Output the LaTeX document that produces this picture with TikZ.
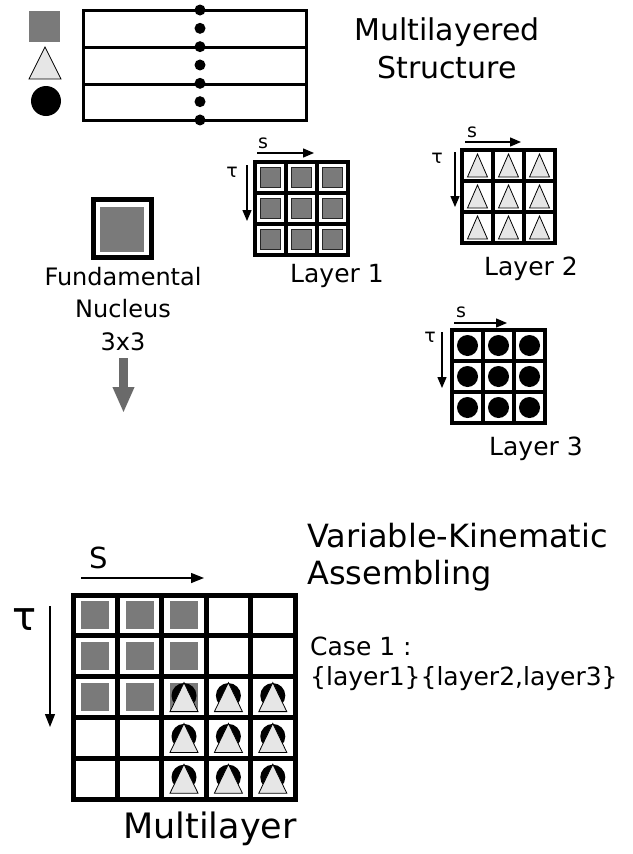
\documentclass[tikz,border=0pt]{standalone}
\usepackage{fontspec}
\setmainfont{DejaVu Sans}
\usetikzlibrary{arrows.meta}
\definecolor{nucleusgrey}{HTML}{7A7A7A}
\definecolor{trianglegrey}{HTML}{E6E6E6}
\definecolor{arrowgrey}{HTML}{6A6A6A}

\begin{document}
\begin{tikzpicture}[x=1pt,y=-1pt]
		\tikzset{gridline/.style={line width=4.5pt},
			axisarrow/.style={line width=1.4pt,-{Triangle[length=11pt,width=9pt]}},
			txt/.style={inner sep=0pt,anchor=base,align=center},
			squarecell/.style={fill=nucleusgrey},
			trianglecell/.style={fill=trianglegrey,draw=black,line width=0.8pt},
			dotcell/.style={fill=black}}
		\useasboundingbox (0,0) rectangle (632,854);
		% legend and structure
		\fill[squarecell] (29,11) rectangle (60,42);
		\draw[trianglecell] (29,79) -- (61,79) -- (45,47) -- cycle;
		\fill[dotcell] (46,101) circle (15);
		\draw[line width=3pt] (83,10) rectangle (306,120);
		\draw[line width=3pt] (83,47) -- (306,47) (83,84) -- (306,84);
		\foreach \k in {0,...,6}
			\fill[dotcell] (200,10+18.33*\k) circle (5.5);
		\node[txt,font={\fontsize{30}{38}\selectfont}] (title) at (447,78) {Multilayered\\Structure};
		% layer 1
		\begin{scope}[shift={(255,162)}]
			\foreach \i in {0,1,2} \foreach \j in {0,1,2}
				\filldraw[squarecell,draw=black!85,line width=1pt] (31*\i+5.5,31*\j+5.5) rectangle ++(20,20);
			\draw[gridline] (0,0) rectangle (93,93);
			\foreach \k in {31,62} {
				\draw[gridline] (\k,0) -- (\k,93);
				\draw[gridline] (0,\k) -- (93,\k);
			}
		\end{scope}
		\coordinate (s1a) at (257,153); \coordinate (s1b) at (314,153);
		\coordinate (t1a) at (247,165); \coordinate (t1b) at (247,221);
		\draw[axisarrow] (s1a) -- (s1b);
		\draw[axisarrow] (t1a) -- (t1b);
		\node[txt,font={\fontsize{19}{19}\selectfont}] (sone) at (263,148) {s};
		\node[txt,font={\fontsize{19}{19}\selectfont}] (tauone) at (232,177) {τ};
		\node[txt,font={\fontsize{25}{25}\selectfont}] (layerone) at (337,282) {Layer 1};
		% layer 2
		\begin{scope}[shift={(462,150)}]
			\foreach \i in {0,1,2} \foreach \j in {0,1,2}
				\draw[trianglecell] (31*\i+5.5,31*\j+27) -- ++(20,0) -- ++(-10,-23) -- cycle;
			\draw[gridline] (0,0) rectangle (93,93);
			\foreach \k in {31,62} {
				\draw[gridline] (\k,0) -- (\k,93);
				\draw[gridline] (0,\k) -- (93,\k);
			}
		\end{scope}
		\coordinate (s2a) at (465,142); \coordinate (s2b) at (521,142);
		\coordinate (t2a) at (455,152); \coordinate (t2b) at (455,207);
		\draw[axisarrow] (s2a) -- (s2b);
		\draw[axisarrow] (t2a) -- (t2b);
		\node[txt,font={\fontsize{19}{19}\selectfont}] (stwo) at (472,137) {s};
		\node[txt,font={\fontsize{19}{19}\selectfont}] (tautwo) at (437,163) {τ};
		\node[txt,font={\fontsize{25}{25}\selectfont}] (layertwo) at (531,275) {Layer 2};
		% layer 3
		\begin{scope}[shift={(452,330)}]
			\foreach \i in {0,1,2} \foreach \j in {0,1,2}
				\fill[dotcell] (31*\i+15.5,31*\j+15.5) circle (10.5);
			\draw[gridline] (0,0) rectangle (93,93);
			\foreach \k in {31,62} {
				\draw[gridline] (\k,0) -- (\k,93);
				\draw[gridline] (0,\k) -- (93,\k);
			}
		\end{scope}
		\coordinate (s3a) at (454,323); \coordinate (s3b) at (507,323);
		\coordinate (t3a) at (442,332); \coordinate (t3b) at (442,388);
		\draw[axisarrow] (s3a) -- (s3b);
		\draw[axisarrow] (t3a) -- (t3b);
		\node[txt,font={\fontsize{19}{19}\selectfont}] (sthree) at (461,317) {s};
		\node[txt,font={\fontsize{19}{19}\selectfont}] (tauthree) at (430,342) {τ};
		\node[txt,font={\fontsize{25}{25}\selectfont}] (layerthree) at (536,455) {Layer 3};
		% fundamental nucleus
		\draw[line width=5pt] (93.5,199.5) rectangle (151.5,257.5);
		\fill[squarecell] (100,207) rectangle (144,252);
		\node[txt,font={\fontsize{24}{32.5}\selectfont}] (nucleus) at (123,350) {Fundamental\\Nucleus\\3x3};
		\coordinate (nucleusarrowtop) at (123.5,358);
		\coordinate (nucleusarrowtip) at (123.5,413);
		\draw[line width=9pt,draw=arrowgrey,fill=arrowgrey,-{Triangle[length=26pt,width=20pt]}] (nucleusarrowtop) -- (nucleusarrowtip);
		% multilayer assembling
		\node[txt,anchor=base west,align=left,font={\fontsize{32}{37}\selectfont}] (assembling) at (307,584) {Variable-Kinematic\\Assembling};
		\node[txt,anchor=base west,align=left,font={\fontsize{25}{30}\selectfont}] (caseone) at (310,685) {Case 1 :\\\{layer1\}\{layer2,layer3\}};
		\begin{scope}[shift={(73,595)}]
			\foreach \i/\j in {0/0,1/0,2/0,0/1,1/1,2/1,0/2,1/2,2/2}
				\fill[squarecell] (44.4*\i+8.2,40.8*\j+6.4) rectangle ++(28,28);
			\foreach \i/\j in {2/2,3/2,4/2,2/3,3/3,4/3,2/4,3/4,4/4} {
				\fill[dotcell] (44.4*\i+22.2,40.8*\j+19) circle (12.5);
				\draw[trianglecell] (44.4*\i+8.2,40.8*\j+35) -- ++(28,0) -- ++(-14,-29) -- cycle;
			}
			\draw[line width=5pt] (0,0) rectangle (222,204);
			\foreach \k in {1,...,4} {
				\draw[line width=5pt] (44.4*\k,0) -- (44.4*\k,204);
				\draw[line width=5pt] (0,40.8*\k) -- (222,40.8*\k);
			}
		\end{scope}
		\coordinate (sba) at (81,578); \coordinate (sbb) at (204,578);
		\coordinate (tba) at (50,606); \coordinate (tbb) at (50,727);
		\draw[axisarrow,-{Triangle[length=13pt,width=10pt]}] (sba) -- (sbb);
		\draw[axisarrow,-{Triangle[length=13pt,width=10pt]}] (tba) -- (tbb);
		\node[txt,font={\fontsize{29}{29}\selectfont}] (sbig) at (99,568) {S};
		\node[txt,font={\fontsize{40}{40}\selectfont}] (taubig) at (25,630) {τ};
		\node[txt,font={\fontsize{35}{35}\selectfont}] (multilayer) at (210,838) {Multilayer};
	\end{tikzpicture}
\end{document}
